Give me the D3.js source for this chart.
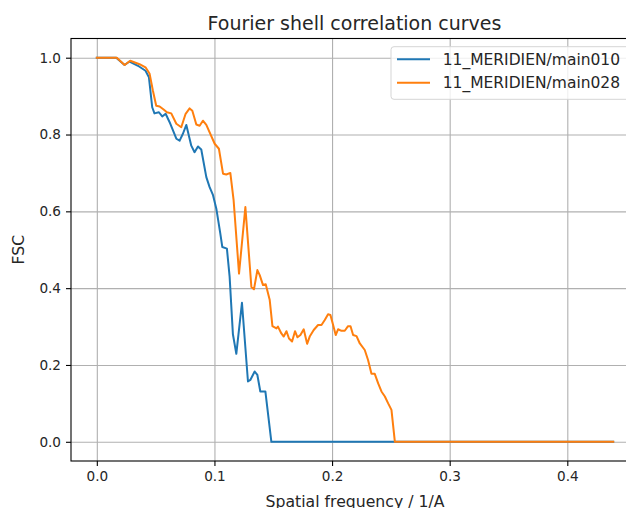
<!DOCTYPE html>
<html>
<head>
<meta charset="utf-8">
<script src="https://cdn.jsdelivr.net/npm/d3@7"></script>
<style>
  body { margin: 0; background: #fff; }
  svg { display: block; font-family: "DejaVu Sans", sans-serif; }
</style>
</head>
<body>
<script>
// FSC curves (spatial frequency, correlation)
let freq010 = [0, 0.0165, 0.0236, 0.0278, 0.035, 0.0414, 0.0443, 0.0471, 0.049, 0.0528, 0.0556, 0.0585, 0.0619, 0.0676, 0.0704, 0.0732, 0.0761, 0.0803, 0.0831, 0.086, 0.0888, 0.0931, 0.0959, 0.0988, 0.1016, 0.105, 0.1067, 0.1106, 0.1129, 0.1157, 0.1186, 0.1234, 0.1285, 0.1305, 0.1342, 0.1365, 0.139, 0.1433, 0.1484, 0.439]
let fsc010 = [1.0, 1.0, 0.981, 0.990, 0.979, 0.966, 0.949, 0.871, 0.855, 0.858, 0.847, 0.854, 0.832, 0.789, 0.784, 0.802, 0.825, 0.771, 0.754, 0.769, 0.761, 0.689, 0.663, 0.642, 0.607, 0.542, 0.507, 0.503, 0.43, 0.28, 0.229, 0.362, 0.157, 0.161, 0.183, 0.174, 0.131, 0.131, 0, 0]

let freq028 = [0, 0.017, 0.0236, 0.0284, 0.0363, 0.0414, 0.0449, 0.0477, 0.0505, 0.0534, 0.0568, 0.0596, 0.0633, 0.0676, 0.0718, 0.0755, 0.0789, 0.0812, 0.0846, 0.0874, 0.0902, 0.0931, 0.1002, 0.1038, 0.1073, 0.1101, 0.1135, 0.1163, 0.1209, 0.1263, 0.1314, 0.1336, 0.1365, 0.1385, 0.1413, 0.1436, 0.147, 0.1493, 0.1527, 0.154, 0.1569, 0.1589, 0.1612, 0.1634, 0.166, 0.1685, 0.1706, 0.1731, 0.1759, 0.1788, 0.181, 0.1844, 0.1881, 0.191, 0.1938, 0.1966, 0.1986, 0.2009, 0.2031, 0.2051, 0.208, 0.2108, 0.2136, 0.2157, 0.2179, 0.2208, 0.2236, 0.2278, 0.2306, 0.2335, 0.2363, 0.2392, 0.242, 0.2449, 0.2477, 0.2505, 0.2534, 0.439]
let fsc028 = [1.0, 1.0, 0.981, 0.992, 0.983, 0.975, 0.958, 0.914, 0.875, 0.873, 0.865, 0.858, 0.855, 0.828, 0.819, 0.854, 0.868, 0.862, 0.826, 0.823, 0.836, 0.825, 0.776, 0.763, 0.698, 0.696, 0.700, 0.629, 0.438, 0.611, 0.403, 0.397, 0.447, 0.434, 0.408, 0.410, 0.369, 0.301, 0.295, 0.300, 0.282, 0.274, 0.288, 0.269, 0.261, 0.288, 0.272, 0.278, 0.293, 0.255, 0.274, 0.291, 0.304, 0.304, 0.317, 0.332, 0.330, 0.304, 0.278, 0.293, 0.289, 0.289, 0.301, 0.301, 0.278, 0.275, 0.256, 0.239, 0.213, 0.177, 0.177, 0.152, 0.131, 0.118, 0.100, 0.083, 0, 0]

let seriesNames = ["11_MERIDIEN/main010", "11_MERIDIEN/main028"]
let seriesColors = ["#1f77b4", "#ff7f0e"]
let xTicks = [0, 0.1, 0.2, 0.3, 0.4]
let yTicks = [0, 0.2, 0.4, 0.6, 0.8, 1.0]

let width = 626
let height = 508
let plotLeft = 71, plotRight = 639, plotTop = 38.5, plotBottom = 461

let svg = d3.select("body")
            .append("svg")
            .attr("width", width)
            .attr("height", height)

let xScale = d3.scaleLinear()
               .domain([-0.02195, 0.46095])
               .range([plotLeft, plotRight])

let yScale = d3.scaleLinear()
               .domain([-0.05, 1.05])
               .range([plotBottom, plotTop])

// grid lines
svg.append("g")
   .attr("transform", "translate(0," + plotBottom + ")")
   .call(d3.axisBottom(xScale).tickValues(xTicks).tickSize(-(plotBottom - plotTop)).tickFormat(""))
   .call(g => g.select(".domain").remove())
   .selectAll("line")
   .attr("stroke", "#b0b0b0")
   .attr("stroke-width", 1.1)

svg.append("g")
   .attr("transform", "translate(" + plotLeft + ",0)")
   .call(d3.axisLeft(yScale).tickValues(yTicks).tickSize(-(plotRight - plotLeft)).tickFormat(""))
   .call(g => g.select(".domain").remove())
   .selectAll("line")
   .attr("stroke", "#b0b0b0")
   .attr("stroke-width", 1.1)

// curves
let line = d3.line()
             .x(d => xScale(d[0]))
             .y(d => yScale(d[1]))

let curves = [
    d3.zip(freq010, fsc010),
    d3.zip(freq028, fsc028)
]

curves.forEach((pts, i) => {
    svg.append("path")
       .datum(pts)
       .attr("d", line)
       .attr("fill", "none")
       .attr("stroke", seriesColors[i])
       .attr("stroke-width", 2)
       .attr("stroke-linejoin", "round")
       .attr("stroke-linecap", "square")
})

// frame
svg.append("rect")
   .attr("x", plotLeft)
   .attr("y", plotTop)
   .attr("width", plotRight - plotLeft)
   .attr("height", plotBottom - plotTop)
   .attr("fill", "none")
   .attr("stroke", "#000")
   .attr("stroke-width", 1.1)

// axes
let xAxis = svg.append("g")
               .attr("class", "axis")
               .attr("transform", "translate(0," + plotBottom + ")")
               .call(d3.axisBottom(xScale).tickValues(xTicks).tickSize(5).tickPadding(5).tickFormat(d3.format(".1f")))
xAxis.select(".domain").remove()

let yAxis = svg.append("g")
               .attr("class", "axis")
               .attr("transform", "translate(" + plotLeft + ",0)")
               .call(d3.axisLeft(yScale).tickValues(yTicks).tickSize(5).tickPadding(5).tickFormat(d3.format(".1f")))
yAxis.select(".domain").remove()

svg.selectAll(".axis .tick text")
   .attr("font-family", "DejaVu Sans")
   .attr("font-size", 13.6)
   .attr("fill", "#262626")
svg.selectAll(".axis .tick line")
   .attr("stroke", "#000")
   .attr("stroke-width", 1.1)

// labels
svg.append("text")
   .attr("x", 354.5)
   .attr("y", 30)
   .attr("text-anchor", "middle")
   .attr("font-size", 19)
   .attr("fill", "#262626")
   .text("Fourier shell correlation curves")

svg.append("text")
   .attr("x", 355)
   .attr("y", 506.5)
   .attr("text-anchor", "middle")
   .attr("font-size", 15.7)
   .attr("fill", "#262626")
   .text("Spatial frequency / 1/A")

svg.append("text")
   .attr("transform", "translate(24," + (plotTop + plotBottom) / 2 + ") rotate(-90)")
   .attr("text-anchor", "middle")
   .attr("font-size", 15.7)
   .attr("fill", "#262626")
   .text("FSC")

// legend
let legend = svg.append("g")
legend.append("rect")
      .attr("x", 391)
      .attr("y", 46.7)
      .attr("width", 242)
      .attr("height", 52.6)
      .attr("rx", 3)
      .attr("fill", "#fff")
      .attr("fill-opacity", 0.8)
      .attr("stroke", "#d5d5d5")

seriesNames.forEach((name, i) => {
    let y = 59.3 + i * 23.4
    legend.append("line")
          .attr("x1", 397)
          .attr("x2", 430)
          .attr("y1", y)
          .attr("y2", y)
          .attr("stroke", seriesColors[i])
          .attr("stroke-width", 2)
    legend.append("text")
          .attr("x", 442.7)
          .attr("y", y + 5.4)
          .attr("font-size", 15.5)
          .attr("fill", "#262626")
          .text(name)
})
</script>
</body>
</html>
